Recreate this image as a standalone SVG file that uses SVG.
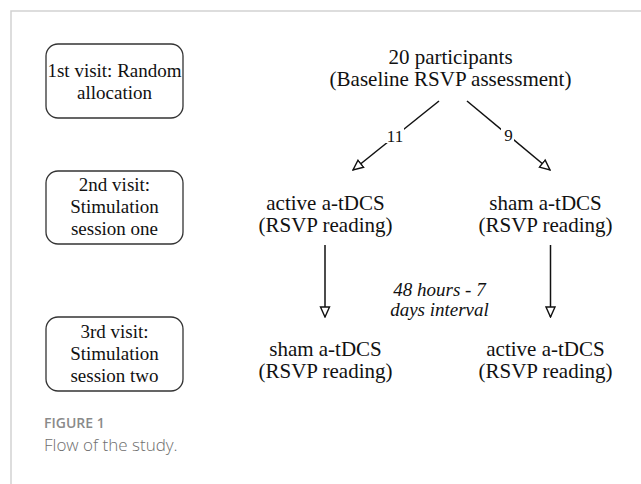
<svg xmlns="http://www.w3.org/2000/svg" width="641" height="484" viewBox="0 0 641 484">
<style>
  .frame { stroke: #d2d2d2; stroke-width: 1.5; fill: none; }
  .box { fill: #ffffff; stroke: #333333; stroke-width: 1.3; }
  .bt { font-family: "Liberation Serif", "Times New Roman", serif; font-size: 19px; fill: #111111; text-anchor: middle; }
  .nt { font-family: "Liberation Serif", "Times New Roman", serif; font-size: 21px; fill: #111111; text-anchor: middle; }
  .it { font-family: "Liberation Serif", "Times New Roman", serif; font-size: 19px; font-style: italic; fill: #111111; text-anchor: middle; }
  .lbl { font-family: "Liberation Serif", "Times New Roman", serif; font-size: 17px; fill: #111111; text-anchor: middle; }
  .conn { stroke: #111111; stroke-width: 1.5; fill: none; marker-end: url(#open); }
  .cap1 { font-family: "Open Sans", "Liberation Sans", sans-serif; font-size: 14px; font-weight: 600; fill: #8a8a8a; }
  .cap2 { font-family: "Open Sans", "Liberation Sans", sans-serif; font-size: 17px; font-weight: 300; fill: #6e6e6e; }
</style>
<defs>
  <marker id="open" viewBox="0 0 12 12" refX="11" refY="6" markerWidth="12" markerHeight="12" markerUnits="userSpaceOnUse" orient="auto">
    <path d="M1,1.5 L11,6 L1,10.5 Z" fill="#ffffff" stroke="#111111" stroke-width="1.4" stroke-linejoin="miter"/>
  </marker>
</defs>
<rect width="641" height="484" fill="#ffffff"/>
<path class="frame" d="M11,484 L11,11 L641,11"/>

<g id="visit1">
  <rect class="box" x="46" y="44" width="137" height="74" rx="12"/>
  <text class="bt" x="114.5" y="77">1st visit: Random</text>
  <text class="bt" x="114.5" y="99">allocation</text>
</g>
<g id="visit2">
  <rect class="box" x="46" y="171" width="137" height="73" rx="12"/>
  <text class="bt" x="114.5" y="191">2nd visit:</text>
  <text class="bt" x="114.5" y="213">Stimulation</text>
  <text class="bt" x="114.5" y="235">session one</text>
</g>
<g id="visit3">
  <rect class="box" x="46" y="317" width="137" height="74" rx="12"/>
  <text class="bt" x="114.5" y="338">3rd visit:</text>
  <text class="bt" x="114.5" y="360">Stimulation</text>
  <text class="bt" x="114.5" y="382">session two</text>
</g>

<g id="participants">
  <text class="nt" x="450.5" y="64">20 participants</text>
  <text class="nt" x="450.5" y="86">(Baseline RSVP assessment)</text>
</g>
<g id="active1">
  <text class="nt" x="325.5" y="210">active a-tDCS</text>
  <text class="nt" x="325.5" y="232">(RSVP reading)</text>
</g>
<g id="sham1">
  <text class="nt" x="545.5" y="210">sham a-tDCS</text>
  <text class="nt" x="545.5" y="232">(RSVP reading)</text>
</g>
<g id="sham2">
  <text class="nt" x="325.5" y="356">sham a-tDCS</text>
  <text class="nt" x="325.5" y="378">(RSVP reading)</text>
</g>
<g id="active2">
  <text class="nt" x="545.5" y="356">active a-tDCS</text>
  <text class="nt" x="545.5" y="378">(RSVP reading)</text>
</g>
<g id="interval">
  <text class="it" x="439.5" y="296">48 hours - 7</text>
  <text class="it" x="439.5" y="316">days interval</text>
</g>

<g id="connectors">
  <line class="conn" x1="439" y1="101" x2="353" y2="170"/>
  <line class="conn" x1="467" y1="101" x2="550" y2="170"/>
  <line class="conn" x1="325" y1="245" x2="325" y2="317"/>
  <line class="conn" x1="550.5" y1="245" x2="550.5" y2="317"/>
  <rect x="385" y="127" width="19" height="16" fill="#ffffff"/>
  <text class="lbl" x="395" y="141.5">11</text>
  <rect x="501" y="127" width="13" height="15" fill="#ffffff"/>
  <text class="lbl" x="508.5" y="141">9</text>
</g>

<g id="caption">
  <text class="cap1" x="44" y="428">FIGURE 1</text>
  <text class="cap2" x="44" y="451">Flow of the study.</text>
</g>
</svg>
